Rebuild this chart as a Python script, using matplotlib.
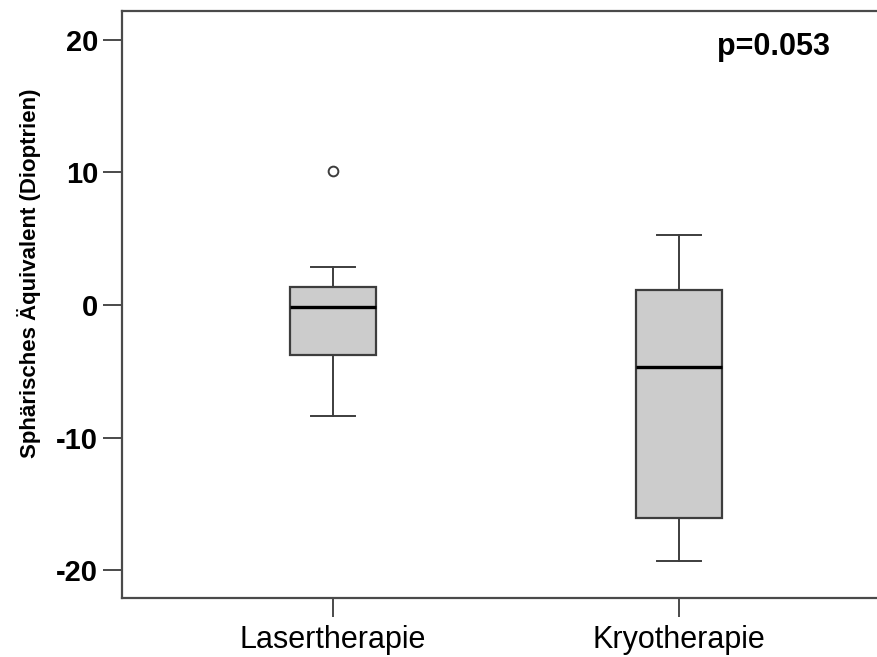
import matplotlib
matplotlib.use("Agg")
import matplotlib.pyplot as plt  # noqa: E402

plt.rcParams["font.family"] = ["Liberation Sans", "DejaVu Sans"]
plt.rcParams["axes.unicode_minus"] = False

# Box statistics per treatment group (diopters)
groups = ["Lasertherapie", "Kryotherapie"]
q1 = [-3.77, -16.05]
medians = [-0.13, -4.66]
q3 = [1.34, 1.11]
whisker_low = [-8.38, -19.3]
whisker_high = [2.85, 5.3]
outliers = [[10.07], []]
p_value = "p=0.053"

AXIS_COLOR = "#4a4a4a"
LINE_COLOR = "#3d3d3d"

stats = []
for i, name in enumerate(groups):
    stats.append({
        "label": name,
        "q1": q1[i], "med": medians[i], "q3": q3[i],
        "whislo": whisker_low[i], "whishi": whisker_high[i],
        "fliers": outliers[i],
    })

fig = plt.figure(figsize=(8.77, 6.57), dpi=100)
ax = fig.add_axes([0.1388, 0.0893, 0.8612, 0.8947])

ax.bxp(
    stats, positions=[1, 2], widths=0.25, patch_artist=True,
    boxprops=dict(facecolor="#cccccc", edgecolor=LINE_COLOR, linewidth=1.6),
    medianprops=dict(color="black", linewidth=2.4),
    whiskerprops=dict(color=LINE_COLOR, linewidth=1.4),
    capprops=dict(color=LINE_COLOR, linewidth=1.4),
    capwidths=0.125,
    flierprops=dict(marker="o", markersize=7, markerfacecolor="white",
                    markeredgecolor=LINE_COLOR, markeredgewidth=1.4),
)

ax.set_xlim(0.389, 2.572)
ax.set_ylim(-22.1, 22.2)
ax.set_yticks([-20, -10, 0, 10, 20])
ax.set_xticks([1, 2])
ax.set_xticklabels(groups, fontsize=22)
for lbl in ax.get_yticklabels():
    lbl.set_fontweight("bold")
    lbl.set_fontsize(21)

ax.tick_params(axis="both", length=14, width=1.4, color=AXIS_COLOR, pad=3)
ax.tick_params(axis="x", pad=5)
ax.spines["right"].set_visible(False)
for side in ["left", "top", "bottom"]:
    ax.spines[side].set_color(AXIS_COLOR)
    ax.spines[side].set_linewidth(1.6)

ax.set_ylabel("Sphärisches Äquivalent (Dioptrien)", fontsize=16,
              fontweight="bold")
ax.yaxis.label.set_va("center")
ax.yaxis.set_label_coords(-0.1234, 0.553)

ax.text(0.938, 0.938, p_value, transform=ax.transAxes, ha="right", va="center",
        fontsize=22, fontweight="bold")

fig.savefig("out.png", dpi=100)
